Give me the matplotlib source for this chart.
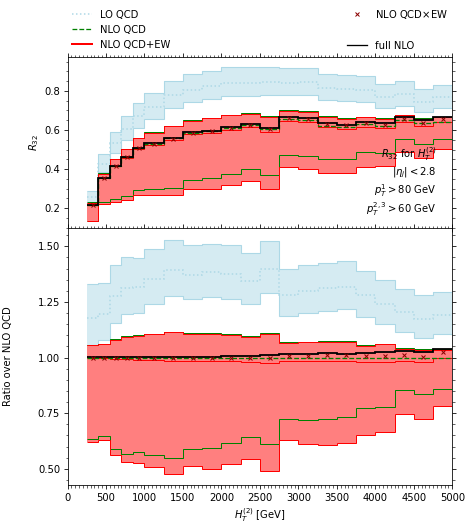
import numpy as np
import matplotlib
matplotlib.use("Agg")
import matplotlib.pyplot as plt
from matplotlib.lines import Line2D
from matplotlib.ticker import MultipleLocator

# bin edges in H_T^(2) [GeV]
edges = [250, 400, 550, 700, 850, 1000, 1250, 1500, 1750, 2000, 2250, 2500,
         2750, 3000, 3250, 3500, 3750, 4000, 4250, 4500, 4750, 5000]

# NLO QCD central value of R32 (top panel)
nlo_qcd = [0.217, 0.356, 0.417, 0.461, 0.509, 0.531, 0.557, 0.587, 0.596, 0.612, 0.626,
           0.605, 0.656, 0.650, 0.623, 0.616, 0.631, 0.621, 0.650, 0.634, 0.643]

# everything below is relative to NLO QCD central (bottom panel)
lo_mid = [1.177, 1.195, 1.275, 1.312, 1.315, 1.353, 1.395, 1.373, 1.383, 1.375, 1.345,
          1.399, 1.282, 1.300, 1.311, 1.318, 1.279, 1.242, 1.204, 1.174, 1.192]
lo_up = [1.332, 1.335, 1.416, 1.452, 1.449, 1.489, 1.529, 1.506, 1.511, 1.505, 1.470,
         1.524, 1.400, 1.415, 1.426, 1.434, 1.390, 1.348, 1.308, 1.279, 1.293]
lo_down = [1.055, 1.077, 1.155, 1.195, 1.201, 1.240, 1.278, 1.264, 1.270, 1.264, 1.240,
           1.288, 1.185, 1.200, 1.210, 1.218, 1.182, 1.149, 1.116, 1.089, 1.107]

nlo_up = [1.058, 1.062, 1.084, 1.096, 1.101, 1.108, 1.117, 1.109, 1.110, 1.105, 1.095,
          1.110, 1.069, 1.071, 1.075, 1.074, 1.058, 1.063, 1.043, 1.040, 1.040]
nlo_down = [0.632, 0.647, 0.589, 0.568, 0.574, 0.562, 0.547, 0.587, 0.592, 0.614, 0.644,
            0.613, 0.722, 0.718, 0.722, 0.733, 0.772, 0.779, 0.853, 0.835, 0.860]

ew_mid = [0.997, 0.997, 0.995, 0.994, 0.991, 0.990, 0.985, 0.984, 0.983, 0.983, 0.980,
          0.977, 0.986, 0.985, 0.984, 0.983, 0.978, 0.982, 0.986, 0.980, 0.999]
ew_up = [1.056, 1.059, 1.081, 1.093, 1.098, 1.105, 1.113, 1.105, 1.107, 1.102, 1.092,
         1.105, 1.066, 1.068, 1.072, 1.069, 1.054, 1.060, 1.039, 1.036, 1.033]
ew_down = [0.619, 0.629, 0.562, 0.530, 0.526, 0.508, 0.477, 0.512, 0.500, 0.523, 0.545,
           0.491, 0.630, 0.613, 0.607, 0.614, 0.650, 0.667, 0.748, 0.723, 0.784]

qcdxew = [0.998, 0.998, 0.998, 0.998, 0.998, 0.999, 0.999, 0.999, 1.000, 1.000, 1.000,
          1.000, 1.009, 1.009, 1.012, 1.012, 1.006, 1.009, 1.012, 1.002, 1.023]
full_nlo = [1.002, 1.002, 1.002, 1.002, 1.002, 1.002, 1.002, 1.003, 1.001, 1.008, 1.009,
            1.012, 1.018, 1.018, 1.021, 1.018, 1.020, 1.027, 1.028, 1.027, 1.039]

edges = np.array(edges)
centers = 0.5 * (edges[1:] + edges[:-1])


def draw(ax, scale):
    s = np.asarray(scale)
    f = lambda a: np.asarray(a) * s
    ax.stairs(f(lo_up), edges, baseline=f(lo_down), fill=True, color="lightblue", alpha=0.5, lw=0)
    ax.stairs(f(lo_up), edges, baseline=None, color="lightblue", lw=1.1)
    ax.stairs(f(lo_down), edges, baseline=None, color="lightblue", lw=1.1)
    ax.stairs(f(lo_mid), edges, baseline=None, color="lightblue", lw=1.5, ls=":")
    ax.stairs(f(ew_up), edges, baseline=f(ew_down), fill=True, color="red", alpha=0.5, lw=0)
    ax.stairs(f(nlo_up), edges, baseline=None, color="green", lw=1)
    ax.stairs(f(nlo_down), edges, baseline=None, color="green", lw=1)
    ax.stairs(f(ew_up), edges, baseline=None, color="red", lw=1)
    ax.stairs(f(ew_down), edges, baseline=None, color="red", lw=1)
    ax.stairs(f(ew_mid), edges, baseline=None, color="red", lw=1)
    ax.stairs(s, edges, baseline=None, color="green", lw=1.3, ls="--")
    ax.stairs(f(full_nlo), edges, baseline=None, color="black", lw=1.8)
    ax.plot(centers, f(qcdxew), "x", color="darkred", ms=4, mew=1)


fig, (ax1, ax2) = plt.subplots(2, 1, sharex=True, figsize=(466 / 72, 524 / 72), dpi=72,
                               gridspec_kw=dict(height_ratios=[171, 257], hspace=0))
fig.subplots_adjust(left=0.1449, right=0.9706, top=0.8918, bottom=0.0744)

draw(ax1, nlo_qcd)
draw(ax2, np.ones(len(nlo_qcd)))

ax1.set_xlim(0, 5000)
ax1.set_ylim(0.10, 0.975)
ax2.set_ylim(0.427, 1.583)

ax1.set_ylabel("$R_{32}$", fontsize=10)
ax2.set_ylabel("Ratio over NLO QCD", fontsize=10)
ax2.set_xlabel("$H_T^{(2)}$ [GeV]", fontsize=10)
ax1.yaxis.set_label_coords(-0.069, 0.5)
ax2.yaxis.set_label_coords(-0.142, 0.5)

ax2.xaxis.set_major_locator(MultipleLocator(500))
ax2.xaxis.set_minor_locator(MultipleLocator(50))
ax1.yaxis.set_major_locator(MultipleLocator(0.2))
ax1.yaxis.set_minor_locator(MultipleLocator(0.05))
ax2.yaxis.set_major_locator(MultipleLocator(0.25))
ax2.yaxis.set_minor_locator(MultipleLocator(0.05))
ax2.yaxis.set_major_formatter(plt.FormatStrFormatter("%.2f"))

for ax in (ax1, ax2):
    ax.tick_params(which="both", direction="out", top=True, right=True, labelsize=10)
    ax.tick_params(which="major", length=4)
    ax.tick_params(which="minor", length=2.5)

ax1.text(0.96, 0.055,
         "$R_{32}$ for $H_T^{(2)}$\n$|\\eta_j| < 2.8$\n$p_T^1 > 80$ GeV\n$p_T^{2,3} > 60$ GeV",
         transform=ax1.transAxes, ha="right", va="bottom", multialignment="right", fontsize=10)

handles = [
    Line2D([], [], color="lightblue", ls=":", lw=1.5),
    Line2D([], [], color="green", ls="--", lw=1.3),
    Line2D([], [], color="red", lw=2),
    Line2D([], [], color="darkred", marker="x", ls="none", ms=4, mew=1),
    Line2D([], [], ls="none"),
    Line2D([], [], color="black", lw=1.3),
]
labels = ["LO QCD", "NLO QCD", "NLO QCD+EW", "NLO QCD$\\times$EW", "", "full NLO"]
ax1.legend(handles, labels, bbox_to_anchor=(0.0, 1.01, 1.0, 0.3), loc="lower left",
           mode="expand", ncol=2, frameon=False, borderaxespad=0, fontsize=10)

fig.savefig("out.png", dpi=72)
